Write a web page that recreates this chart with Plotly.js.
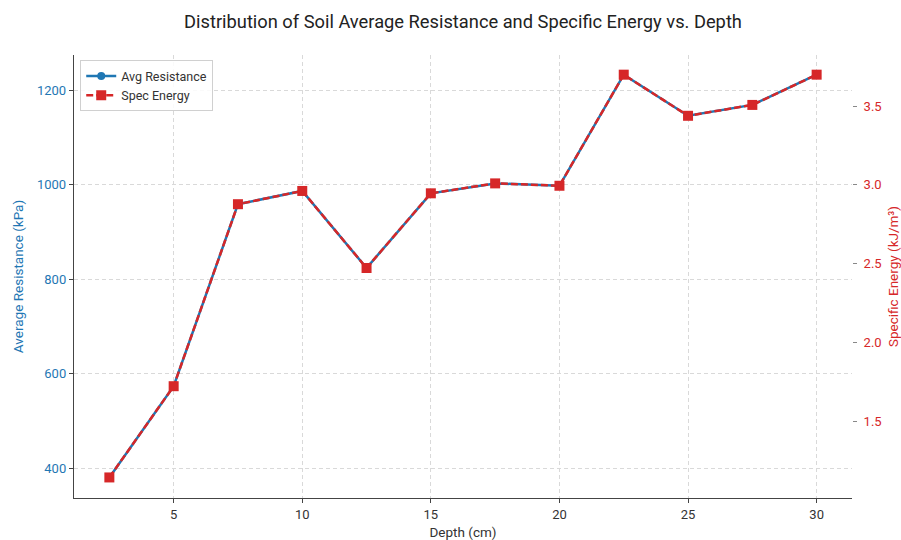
<!DOCTYPE html>
<html>
<head>
<meta charset="utf-8">
<script src="https://cdn.plot.ly/plotly-3.0.1.min.js"></script>
<style>html,body{margin:0;padding:0;background:#fff;}#chart{width:901px;height:540px;}</style>
</head>
<body>
<div id="chart"></div>
<script>
const depth = [2.5, 5, 7.5, 10, 12.5, 15, 17.5, 20, 22.5, 25, 27.5, 30];
const avgResistance = [381, 574, 959, 987, 824, 982, 1003, 998, 1233, 1146, 1169, 1233];
const specEnergy = [1.143, 1.722, 2.877, 2.961, 2.472, 2.946, 3.009, 2.994, 3.699, 3.438, 3.507, 3.699];
const xTicks = [5, 10, 15, 20, 25, 30];
const leftTicks = [400, 600, 800, 1000, 1200];
const rightTicks = [1.5, 2.0, 2.5, 3.0, 3.5];

const FONT = 'Roboto, "Open Sans", sans-serif';
const BLUE = '#1f77b4', RED = '#d62728';

const leftRange = [337.5, 1274.6];
const rightRange = [leftRange[0] * 0.003, leftRange[1] * 0.003];

const traces = [
  {
    x: depth, y: avgResistance, name: 'Avg Resistance', type: 'scatter', mode: 'lines+markers',
    line: {color: BLUE, width: 2.5}, marker: {symbol: 'circle', size: 8, color: BLUE},
    yaxis: 'y'
  },
  {
    x: depth, y: specEnergy, name: 'Spec Energy', type: 'scatter', mode: 'lines+markers',
    line: {color: RED, width: 2.5, dash: '7px,3px'}, marker: {symbol: 'square', size: 10, color: RED},
    yaxis: 'y2'
  }
];

const GRID = '#d9d9d9';

const layout = {
  width: 901, height: 540,
  margin: {l: 74, r: 49, t: 55, b: 42},
  paper_bgcolor: '#fff', plot_bgcolor: '#fff',
  font: {family: FONT, color: '#333'},
  title: {text: 'Distribution of Soil Average Resistance and Specific Energy vs. Depth',
          font: {size: 18.3, color: '#222', family: FONT}, x: 0.5, xref: 'paper', y: 0.96, yref: 'container', yanchor: 'middle'},
  showlegend: true,
  legend: {x: 0.008, y: 0.988, xanchor: 'left', yanchor: 'top', bgcolor: 'rgba(255,255,255,0.85)',
           bordercolor: '#d0d0d0', borderwidth: 1, font: {size: 12.5, color: '#333'}, tracegroupgap: 0},
  xaxis: {
    range: [1.125, 31.375], tickvals: xTicks, ticktext: xTicks.map(String),
    showgrid: true, gridcolor: GRID, griddash: '4px,3px', gridwidth: 1,
    zeroline: false, showline: true, linecolor: '#444', linewidth: 1.2,
    ticks: 'outside', ticklen: 4, tickcolor: '#444',
    tickfont: {size: 13, color: '#333'},
    title: {text: 'Depth (cm)', font: {size: 13.5, color: '#333'}, standoff: 6}
  },
  yaxis: {
    range: leftRange, tickvals: leftTicks, ticktext: leftTicks.map(String),
    showgrid: true, gridcolor: GRID, griddash: '4px,3px', gridwidth: 1,
    zeroline: false, showline: true, linecolor: '#444', linewidth: 1.2,
    ticks: 'outside', ticklen: 4, tickcolor: '#444',
    tickfont: {size: 13, color: BLUE},
    title: {text: 'Average Resistance (kPa)', font: {size: 13.5, color: BLUE}, standoff: 10}
  },
  yaxis2: {
    range: rightRange, overlaying: 'y', side: 'right',
    tickvals: rightTicks, ticktext: rightTicks.map(v => v.toFixed(1)),
    showgrid: false, zeroline: false, showline: false,
    ticks: 'outside', ticklen: 4, tickcolor: '#888', ticklabelstandoff: 4,
    tickfont: {size: 13, color: RED},
    title: {text: 'Specific Energy (kJ/m³)', font: {size: 13.5, color: RED}, standoff: 18}
  }
};

Plotly.newPlot('chart', traces, layout, {displayModeBar: false, staticPlot: true});
</script>
</body>
</html>
